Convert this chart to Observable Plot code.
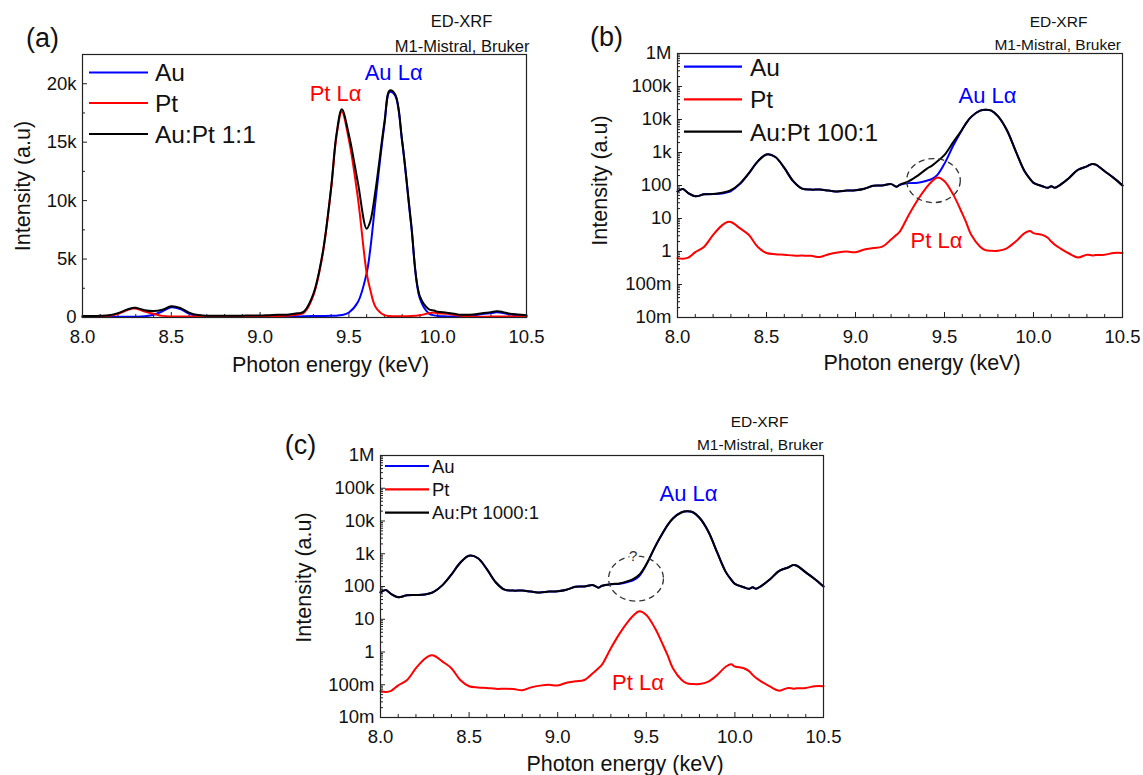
<!DOCTYPE html>
<html><head><meta charset="utf-8">
<script src="https://cdn.jsdelivr.net/npm/d3@7"></script>
<script src="https://cdn.jsdelivr.net/npm/@observablehq/plot@0.6"></script>
<style>
body{margin:0;background:#fff;}
#root{position:relative;width:1143px;height:775px;overflow:hidden;font-family:"Liberation Sans",Arial,Helvetica,sans-serif;}
.panel{position:absolute;}
.panel svg{overflow:visible;}
#legend{position:absolute;left:0;top:0;pointer-events:none;}
</style></head><body><div id="root"></div>
<script>
// ---------- data ----------
const energy = [8.00,8.03,8.06,8.10,8.15,8.20,8.25,8.28,8.30,8.35,8.40,8.45,8.50,8.55,8.60,8.65,8.70,8.75,8.80,8.85,8.90,8.95,9.00,9.05,9.10,9.15,9.20,9.23,9.25,9.30,9.35,9.40,9.43,9.46,9.50,9.55,9.60,9.62,9.65,9.70,9.73,9.76,9.80,9.85,9.90,9.95,9.98,10.00,10.05,10.08,10.10,10.12,10.15,10.20,10.25,10.30,10.33,10.35,10.40,10.45,10.50];

// panel (a), linear counts
const auA  = [66,78,59,47,54,55,57,62,68,110,230,530,870,730,340,135,80,75,75,70,66,70,72,80,98,100,110,92,105,118,122,140,160,210,430,1300,3800,5800,10000,16500,19300,19000,15000,8000,1600,350,180,130,95,85,95,85,105,170,300,380,450,430,270,170,100];
const ptA  = [63,60,65,96,140,320,620,760,770,510,320,140,90,83,80,75,75,74,68,83,94,100,95,115,127,140,230,300,450,1900,5200,11000,15500,17600,15200,10300,3800,2400,900,200,130,105,105,125,200,360,420,360,320,260,200,160,125,87,66,80,76,78,80,90,90];
const mixA = [129,138,124,143,194,375,677,822,838,620,550,670,960,813,420,210,155,149,143,153,160,170,167,195,225,240,340,392,555,2018,5322,11140,15660,17810,15630,11600,7600,8200,10900,16700,19430,19105,15105,8125,1800,710,600,490,415,345,295,245,230,257,366,460,526,508,350,260,190];

// panels (b) and (c), log counts
const auLog = [66,78,59,47,54,55,57,62,68,110,230,530,870,730,340,135,80,75,75,70,66,70,72,80,98,100,110,92,105,118,122,140,160,210,460,1650,5000,7500,12000,18500,19800,18800,12600,4800,1100,270,160,120,95,85,95,85,105,170,300,380,450,430,270,170,100];
const ptB  = [0.63,0.60,0.65,0.96,1.4,3.2,6.2,7.8,7.8,5.1,3.2,1.4,0.9,0.83,0.80,0.75,0.75,0.74,0.68,0.83,0.94,1.0,0.95,1.15,1.27,1.4,2.3,3.2,4.1,13,37,89,135,175,135,52,14,8,3.2,1.4,1.1,1.05,1.05,1.25,2.0,3.6,4.2,3.6,3.2,2.6,2.0,1.6,1.25,0.87,0.66,0.80,0.76,0.78,0.80,0.90,0.90];
const mixB = [66,78,59,47,54,55,60,66,72,114,232,530,870,730,340,135,80,75,75,70,66,70,72,80,98,100,110,92,106,135,200,320,400,540,850,2100,5050,7500,12000,18500,19800,18800,12600,4800,1100,270,160,120,95,85,95,85,105,170,300,380,450,430,270,170,100];
const ptC  = [0.063,0.060,0.065,0.096,0.14,0.32,0.62,0.78,0.78,0.51,0.32,0.14,0.09,0.083,0.080,0.075,0.075,0.074,0.068,0.083,0.094,0.10,0.095,0.115,0.127,0.14,0.23,0.32,0.41,1.3,3.7,8.9,13.5,17.5,13.5,5.2,1.4,0.8,0.32,0.14,0.11,0.105,0.105,0.125,0.20,0.36,0.42,0.36,0.32,0.26,0.20,0.16,0.125,0.087,0.066,0.080,0.076,0.078,0.080,0.090,0.090];
const mixC = [66,78,59,47,54,55,57,62,68,110,230,530,870,730,340,135,80,75,75,70,66,70,72,80,98,100,110,92,105,118,124,148,175,228,475,1650,5000,7500,12000,18500,19800,18800,12600,4800,1100,270,160,120,95,85,95,85,105,170,300,380,450,430,270,170,100];

const seriesColors = ["#0000ff", "#ff0000", "#000000"];
const legendA = ["Au", "Pt", "Au:Pt 1:1"];
const legendB = ["Au", "Pt", "Au:Pt 100:1"];
const legendC = ["Au", "Pt", "Au:Pt 1000:1"];

// axes ticks
const xTicks = [8.0, 8.5, 9.0, 9.5, 10.0, 10.5];
const xTickLabels = ["8.0", "8.5", "9.0", "9.5", "10.0", "10.5"];
const xMinor = [8.1,8.2,8.3,8.4,8.6,8.7,8.8,8.9,9.1,9.2,9.3,9.4,9.6,9.7,9.8,9.9,10.1,10.2,10.3,10.4];
const yLinTicks = [0, 5000, 10000, 15000, 20000];
const yLinLabels = ["0", "5k", "10k", "15k", "20k"];
const yLinMinor = [2500, 7500, 12500, 17500];
const yLogTicks = [1e-2, 1e-1, 1, 10, 100, 1e3, 1e4, 1e5, 1e6];
const yLogLabels = ["10m", "100m", "1", "10", "100", "1k", "10k", "100k", "1M"];
const yLogMinor = [2,3,4,5,6,7,8,9].flatMap(m => [-2,-1,0,1,2,3,4,5].map(p => m * Math.pow(10, p)));

// annotations
const peakLabels = ["Pt Lα", "Au Lα"];
const annA = {x: [9.425, 9.752], y: [19100, 20960]};
const annB = {x: [9.455, 9.742], y: [2.15, 53400]};
const annC = {x: [9.453, 9.738], y: [0.11, 69000]};
const ringB = {x: [9.438], y: [141]};
const ringC = {x: [9.442], y: [175]};
const qMark = {x: [9.426], y: [830], text: ["?"]};

// ---------- drawing ----------
const FONT = '"Liberation Sans", Arial, Helvetica, sans-serif';
const root = document.getElementById("root");
const table = ys => energy.map((e, i) => ({E: e, v: ys[i]}));
const lookup = (vals, labs) => { const m = new Map(vals.map((v, i) => [v, labs[i]])); return d => m.get(d) ?? ""; };

const ellipseSymbol = {
  draw(ctx, size) {
    const r = Math.sqrt(size / Math.PI), rx = r * 1.22, ry = r, k = 0.5522847498;
    ctx.moveTo(rx, 0);
    ctx.bezierCurveTo(rx, k * ry, k * rx, ry, 0, ry);
    ctx.bezierCurveTo(-k * rx, ry, -rx, k * ry, -rx, 0);
    ctx.bezierCurveTo(-rx, -k * ry, -k * rx, -ry, 0, -ry);
    ctx.bezierCurveTo(k * rx, -ry, rx, -k * ry, rx, 0);
    ctx.closePath();
  }
};

function panel(cfg) {
  const frameStroke = "#222";
  const T = (txt, o) => Plot.text([txt], {lineAnchor: "middle", fill: "#111", ...o});
  const marks = [
    Plot.axisY({ticks: cfg.log ? yLogMinor : yLinMinor, tickSize: -3, tickFormat: () => "", stroke: frameStroke}),
    Plot.axisY({ticks: cfg.log ? yLogTicks : yLinTicks, tickSize: -5, tickPadding: 11, stroke: frameStroke,
      tickFormat: cfg.log ? lookup(yLogTicks, yLogLabels) : lookup(yLinTicks, yLinLabels), fontSize: 18.5, fill: "#111"}),
    Plot.axisX({ticks: xMinor, tickSize: -3, tickFormat: () => "", stroke: frameStroke}),
    Plot.axisX({ticks: xTicks, tickSize: -5, tickPadding: 17, stroke: frameStroke,
      tickFormat: lookup(xTicks, xTickLabels), fontSize: 18.5, fill: "#111"}),
    ...cfg.series.map((s, i) => Plot.line(table(s), {x: "E", y: "v", stroke: seriesColors[i], strokeWidth: 2, curve: "catmull-rom"})),
    Plot.frame({stroke: frameStroke, strokeWidth: 1.2}),
    T(cfg.tag, {frameAnchor: "top-left", dx: cfg.tagPos[0], dy: cfg.tagPos[1], fontSize: 27, textAnchor: "middle"}),
    T("ED-XRF", {frameAnchor: "top-right", dx: cfg.edPos[0], dy: cfg.edPos[1], fontSize: cfg.instFont, textAnchor: "middle"}),
    T("M1-Mistral, Bruker", {frameAnchor: "top-right", dx: cfg.m1Pos[0], dy: cfg.m1Pos[1], fontSize: cfg.instFont, textAnchor: "end"}),
    T("Intensity (a.u)", {frameAnchor: "left", rotate: -90, dx: cfg.yLab[0], dy: cfg.yLab[1], fontSize: 21.5, textAnchor: "middle"}),
    T("Photon energy (keV)", {frameAnchor: "bottom", dx: cfg.xLab[0], dy: cfg.xLab[1], fontSize: 21.5, textAnchor: "middle"}),
    Plot.text(peakLabels, {x: (d, i) => cfg.ann.x[i], y: (d, i) => cfg.ann.y[i], fill: (d, i) => i === 0 ? "#ff0000" : "#0000ff", fontSize: 22})
  ];
  if (cfg.ring) marks.push(Plot.dot(cfg.ring.x.map((x, i) => ({x, y: cfg.ring.y[i]})), {x: "x", y: "y", r: cfg.ringR, symbol: ellipseSymbol, fill: "none", stroke: "#333", strokeWidth: 1.3, strokeDasharray: "6,4"}));
  if (cfg.q) marks.push(Plot.text(cfg.q.text, {x: (d, i) => cfg.q.x[i], y: (d, i) => cfg.q.y[i], fontSize: 15, fill: "#333", stroke: "white", strokeWidth: 5, paintOrder: "stroke"}));
  const chart = Plot.plot({
    width: cfg.width, height: cfg.height,
    marginLeft: cfg.m[0], marginRight: cfg.m[1], marginTop: cfg.m[2], marginBottom: cfg.m[3],
    style: {fontFamily: FONT, background: "transparent", overflow: "visible"},
    x: {domain: [8, 10.5], label: null},
    y: cfg.log ? {type: "log", domain: [0.01, 1e6], label: null} : {domain: [0, 22500], label: null},
    marks
  });
  const div = document.createElement("div");
  div.className = "panel";
  div.style.left = cfg.left + "px";
  div.style.top = cfg.top + "px";
  div.appendChild(chart);
  root.appendChild(div);
}

// (a) frame 82..526 x 54..317
panel({left: 0, top: 0, width: 560, height: 390, m: [82, 34, 54, 73], log: false,
  series: [auA, ptA, mixA], tag: "(a)", tagPos: [-40, -16], edPos: [-65, -33], m1Pos: [3, -8], instFont: 16.5,
  yLab: [-59, 0], xLab: [26, 48], ann: annA});
// (b) frame 677..1122 x 53..317
panel({left: 560, top: 0, width: 583, height: 390, m: [117, 21, 53, 73], log: true,
  series: [auLog, ptB, mixB], tag: "(b)", tagPos: [-71, -16], edPos: [-64, -31], m1Pos: [-1.5, -8], instFont: 15.5,
  yLab: [-77, -5], xLab: [22, 46], ann: annB, ring: ringB, ringR: 22});
// (c) frame 380..823 x 455..717
panel({left: 270, top: 390, width: 580, height: 385, m: [110, 27, 65, 58], log: true,
  series: [auLog, ptC, mixC], tag: "(c)", tagPos: [-80, -10], edPos: [-64, -33], m1Pos: [0, -10], instFont: 15.5,
  yLab: [-76, -9], xLab: [23, 47], ann: annC, ring: ringC, ringR: 22.5, q: qMark});

// legends (overlay)
const lg = d3.select(root).append("svg").attr("id", "legend").attr("width", 1143).attr("height", 775)
  .style("font-family", FONT);
function legend(labels, x1, x2, tx, ys, fs) {
  labels.forEach((lab, i) => {
    lg.append("line").attr("x1", x1).attr("x2", x2).attr("y1", ys[i]).attr("y2", ys[i])
      .attr("stroke", seriesColors[i]).attr("stroke-width", 2.2);
    lg.append("text").attr("x", tx).attr("y", ys[i]).attr("dy", "0.36em")
      .attr("font-size", fs).attr("fill", "#111").text(lab);
  });
}
legend(legendA, 89, 148, 155, [72.5, 103, 134], 24.5);
legend(legendB, 684, 742, 750, [66.7, 99.3, 131.7], 24.5);
legend(legendC, 385, 429, 432, [466, 489.3, 512.7], 18.5);
</script></body></html>
